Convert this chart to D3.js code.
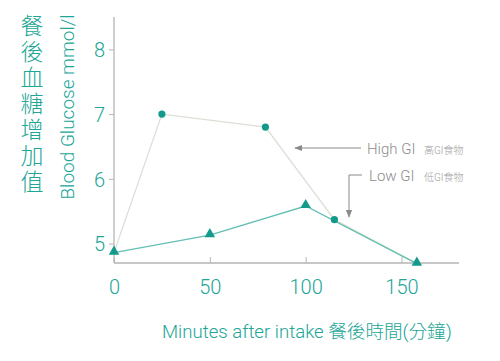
<!DOCTYPE html>
<html><head><meta charset="utf-8">
<script src="https://cdn.jsdelivr.net/npm/d3@7"></script>
<style>
html,body{margin:0;padding:0;background:#fff;}
svg{display:block;font-family:Roboto,"Noto Sans CJK TC",sans-serif;}
</style></head>
<body>
<svg id="c" width="500" height="361"></svg>
<script>
const minutesHigh = [0, 25, 79, 115, 158];
const glucoseHigh = [4.86, 7.0, 6.8, 5.37, 4.69];
const minutesLow = [0, 50, 100, 158];
const glucoseLow = [4.86, 5.13, 5.58, 4.69];
const xTicks = [0, 50, 100, 150];
const yTicks = [5, 6, 7, 8];

const teal = "#21a596";
const svg = d3.select("#c");
const x = d3.scaleLinear().domain([0, 180]).range([114, 459]);
const y = d3.scaleLinear().domain([4.7, 8.5]).range([263, 17]);

// axes
const gy = svg.append("g").attr("transform", "translate(114,0)")
  .call(d3.axisLeft(y).tickValues(yTicks).tickSize(5).tickPadding(4).tickFormat(d3.format("d")));
const gx = svg.append("g").attr("transform", "translate(0,263)")
  .call(d3.axisBottom(x).tickValues(xTicks).tickSize(-6).tickPadding(12).tickFormat(d3.format("d")));
[gx, gy].forEach(g => {
  g.select(".domain").attr("stroke", "#b5b5b5").attr("stroke-width", 1.3);
  g.selectAll(".tick line").attr("stroke", "#b5b5b5");
  g.selectAll(".tick text").attr("fill", teal).attr("font-size", 20).attr("font-weight", 300)
    .attr("font-family", "Roboto, sans-serif");
});
gy.select(".domain").attr("d", "M0," + y(8.5) + "V" + y(4.7));
gx.select(".domain").attr("d", "M" + x(0) + ",0H" + x(180));
gx.selectAll(".tick text").attr("dy", "0.95em");
gy.selectAll(".tick text").attr("dy", "0.36em");

const line = d3.line().x(d => x(d[0])).y(d => y(d[1]));
const high = minutesHigh.map((m, i) => [m, glucoseHigh[i]]);
const low = minutesLow.map((m, i) => [m, glucoseLow[i]]);

svg.append("path").datum(high).attr("d", line).attr("fill", "none")
  .attr("stroke", "#deded6").attr("stroke-width", 1.3);
svg.append("path").datum(low).attr("d", line).attr("fill", "none")
  .attr("stroke", "#63bfb3").attr("stroke-width", 1.3);

svg.selectAll("circle.h").data(high.slice(1, 4)).enter().append("circle")
  .attr("cx", d => x(d[0])).attr("cy", d => y(d[1])).attr("r", 3.6).attr("fill", "#139a8b");
const tri = d3.symbol().type(d3.symbolTriangle).size(48);
svg.selectAll("path.t").data(low).enter().append("path")
  .attr("d", tri).attr("transform", d => `translate(${x(d[0])},${y(d[1]) - 1})`).attr("fill", "#139a8b");

// annotations
const ag = "#8a8a8a";
svg.append("defs").append("marker").attr("id", "ah").attr("viewBox", "0 0 10 10")
  .attr("refX", 9).attr("refY", 5).attr("markerWidth", 8).attr("markerHeight", 8)
  .attr("orient", "auto").attr("markerUnits", "userSpaceOnUse")
  .append("path").attr("d", "M0,1L10,5L0,9Z").attr("fill", ag);
svg.append("line").attr("x1", 361).attr("y1", 148).attr("x2", 295).attr("y2", 148)
  .attr("stroke", ag).attr("stroke-width", 1).attr("marker-end", "url(#ah)");
svg.append("path").attr("d", "M362,175H349V217").attr("fill", "none")
  .attr("stroke", ag).attr("stroke-width", 1).attr("marker-end", "url(#ah)");
svg.append("text").attr("x", 367).attr("y", 154).attr("fill", "#8c8c8c")
  .attr("font-size", 15).attr("font-weight", 300).text("High GI");
svg.append("text").attr("x", 369).attr("y", 181).attr("fill", "#8c8c8c")
  .attr("font-size", 15).attr("font-weight", 300).text("Low GI");
svg.append("text").attr("x", 424).attr("y", 154).attr("fill", "#a0a0a0")
  .attr("font-size", 10).attr("font-weight", 300).text("高GI食物");
svg.append("text").attr("x", 424).attr("y", 181).attr("fill", "#a0a0a0")
  .attr("font-size", 10).attr("font-weight", 300).text("低GI食物");

// axis titles
svg.append("text").attr("x", 32).attr("y", 14)
  .attr("style", "writing-mode: vertical-rl; text-orientation: upright; letter-spacing: 3px;")
  .attr("fill", teal).attr("font-size", 23).attr("font-weight", 300)
  .attr("font-family", "'Noto Sans CJK TC', sans-serif").text("餐後血糖增加值");
svg.append("text").attr("transform", "translate(74,107) rotate(-90)")
  .attr("text-anchor", "middle").attr("fill", teal).attr("font-size", 19).attr("font-weight", 300)
  .text("Blood Glucose mmol/l");
svg.append("text").attr("x", 162).attr("y", 338).attr("fill", teal)
  .attr("font-size", 18.6).attr("font-weight", 300)
  .text("Minutes after intake 餐後時間(分鐘)");
</script>
</body></html>
